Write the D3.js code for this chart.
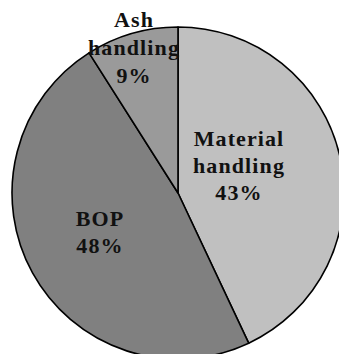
<!DOCTYPE html>
<html>
<head>
<meta charset="utf-8">
<script src="https://cdn.jsdelivr.net/npm/d3@7"></script>
<style>
  html, body { margin: 0; padding: 0; background: #fff; }
  svg { display: block; }
  .lbl { font-family: "Liberation Serif", "Times New Roman", serif; font-weight: bold; font-size: 22px; letter-spacing: 1.1px; fill: #111; }
</style>
</head>
<body>
<div id="chart"></div>
<script>
// slice names and shares (percent), clockwise from 12 o'clock
const names = ["Material handling", "BOP", "Ash handling"];
const shares = [43, 48, 9];
const labelLines = [["Material", "handling", "43%"], ["BOP", "48%"], ["Ash", "handling", "9%"]];
const fills = ["#c0c0c0", "#808080", "#9a9a9a"];

const width = 339, height = 354;
const cx = 178, cy = 193, radius = 166;

// label anchor (x, first baseline) relative to centre, in px
const labelAt = [[61, -47], [-78, 33], [-44, -166]];

let svg = d3.select("#chart").append("svg")
    .attr("width", width)
    .attr("height", height);

let g = svg.append("g").attr("transform", `translate(${cx},${cy})`);

let pie = d3.pie().sort(null).value(d => d);
let arc = d3.arc().innerRadius(0).outerRadius(radius);

let arcs = pie(shares);

g.selectAll("path.slice")
    .data(arcs)
    .join("path")
    .attr("class", "slice")
    .attr("d", arc)
    .attr("fill", (d, i) => fills[i])
    .attr("stroke", "#000")
    .attr("stroke-width", 1.6)
    .attr("stroke-linejoin", "round");

// text labels (drawn on top of the outlines)
g.selectAll("text.lbl")
    .data(arcs)
    .join("text")
    .attr("class", "lbl")
    .attr("text-anchor", "middle")
    .each(function(d, i) {
        let t = d3.select(this);
        let lh = i == 2 ? 28 : 27;
        labelLines[i].forEach((s, k) => {
            t.append("tspan")
                .attr("x", labelAt[i][0])
                .attr("y", labelAt[i][1] + k * lh)
                .text(s);
        });
    });
</script>
</body>
</html>
